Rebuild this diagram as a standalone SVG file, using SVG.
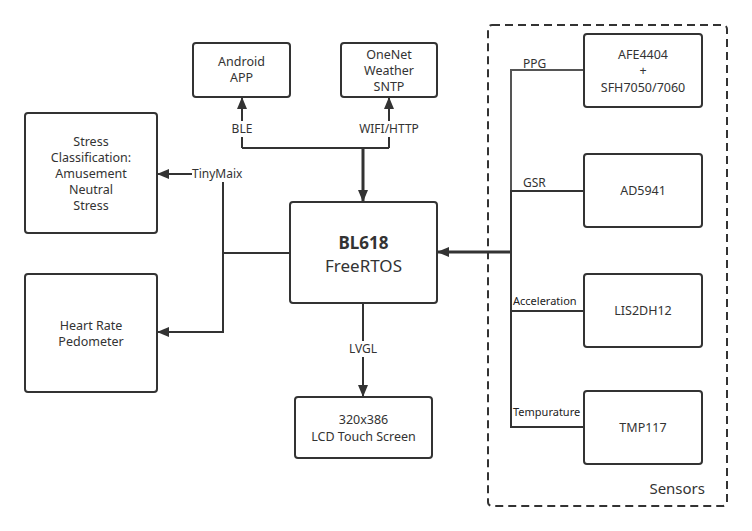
<svg xmlns="http://www.w3.org/2000/svg" width="752" height="531" viewBox="0 0 752 531">
<style>
.box{fill:#fff;stroke:#333;stroke-width:2}
.t{font-family:"Noto Sans","Open Sans",sans-serif;font-size:12.5px;fill:#333;text-anchor:middle}
.l{font-family:"Noto Sans","Open Sans",sans-serif;font-size:12px;fill:#333}
.s{font-family:"Noto Sans","Open Sans",sans-serif;font-size:11px;fill:#222}
.c{fill:none;stroke:#333;stroke-width:2}
.ct{fill:none;stroke:#333;stroke-width:3}
.cg{fill:none;stroke:#555;stroke-width:2}
</style>
<defs>
<marker id="ah" viewBox="0 0 12 10" refX="12" refY="5" markerWidth="12" markerHeight="10" markerUnits="userSpaceOnUse" orient="auto">
<path d="M0,0 L12,5 L0,10 Z" fill="#333"/>
</marker>
</defs>
<rect width="752" height="531" fill="#fff"/>
<g id="sensors-group">
<rect x="488" y="25" width="239" height="481" rx="4" fill="none" stroke="#333" stroke-width="2" stroke-dasharray="8 5"/>
<text x="705" y="494" style="font-family:'Noto Sans','Open Sans',sans-serif;font-size:15px;fill:#333;text-anchor:end">Sensors</text>
</g>
<g id="connectors">
<path class="c" d="M242,148 V97" marker-end="url(#ah)"/>
<path class="c" d="M389,148 V97" marker-end="url(#ah)"/>
<path class="c" d="M242,148 H389"/>
<path class="ct" d="M363,148 V202" marker-end="url(#ah)"/>
<rect x="228" y="121" width="28" height="16" fill="#fff"/>
<text class="l" x="242" y="133" text-anchor="middle">BLE</text>
<rect x="356" y="121" width="66" height="16" fill="#fff"/>
<text class="l" x="389" y="133" text-anchor="middle">WIFI/HTTP</text>
<path class="c" d="M363,303 V397" marker-end="url(#ah)"/>
<rect x="346" y="341" width="34" height="16" fill="#fff"/>
<text class="l" x="363" y="353" text-anchor="middle">LVGL</text>
<path class="c" d="M290,253 H223"/>
<path class="c" d="M223,182 V332 H157" marker-end="url(#ah)"/>
<path class="c" d="M192,174 H157" marker-end="url(#ah)"/>
<text class="l" x="192" y="178">TinyMaix</text>
<path class="ct" d="M511,252 H437" marker-end="url(#ah)"/>
<path class="cg" d="M584,70 H511 V191"/>
<path class="c" d="M584,191 H511 V427 H584"/>
<path class="c" d="M511,311 H584"/>
<text class="l" x="523" y="68">PPG</text>
<text class="l" x="523" y="187">GSR</text>
<text class="s" x="513" y="305">Acceleration</text>
<text class="s" x="513" y="416">Tempurature</text>
</g>
<g id="android">
<rect class="box" x="193" y="43" width="97" height="54" rx="3"/>
<text class="t" x="241.5" y="66">Android</text>
<text class="t" x="241.5" y="82">APP</text>
</g>
<g id="onenet">
<rect class="box" x="341" y="43" width="96" height="54" rx="3"/>
<text class="t" x="389" y="59">OneNet</text>
<text class="t" x="389" y="75">Weather</text>
<text class="t" x="389" y="91">SNTP</text>
</g>
<g id="stress">
<rect class="box" x="25" y="113" width="132" height="120" rx="3"/>
<text class="t" x="91" y="146">Stress</text>
<text class="t" x="91" y="162">Classification:</text>
<text class="t" x="91" y="178">Amusement</text>
<text class="t" x="91" y="194">Neutral</text>
<text class="t" x="91" y="210">Stress</text>
</g>
<g id="heart">
<rect class="box" x="25" y="274" width="132" height="118" rx="3"/>
<text class="t" x="91" y="330">Heart Rate</text>
<text class="t" x="91" y="346">Pedometer</text>
</g>
<g id="bl618">
<rect class="box" x="290" y="202" width="147" height="101" rx="3"/>
<text class="t" x="363.5" y="249" style="font-size:17px;font-weight:bold">BL618</text>
<text class="t" x="363.5" y="272" style="font-size:17px">FreeRTOS</text>
</g>
<g id="lcd">
<rect class="box" x="295" y="397" width="137" height="61" rx="3"/>
<text class="t" x="363.5" y="424">320x386</text>
<text class="t" x="363.5" y="441">LCD Touch Screen</text>
</g>
<g id="afe">
<rect class="box" x="584" y="34" width="118" height="73" rx="3"/>
<text class="t" x="643" y="59">AFE4404</text>
<text class="t" x="643" y="75">+</text>
<text class="t" x="643" y="92">SFH7050/7060</text>
</g>
<g id="ad5941">
<rect class="box" x="584" y="154" width="118" height="73" rx="3"/>
<text class="t" x="643" y="195">AD5941</text>
</g>
<g id="lis">
<rect class="box" x="584" y="274" width="118" height="73" rx="3"/>
<text class="t" x="643" y="315">LIS2DH12</text>
</g>
<g id="tmp">
<rect class="box" x="584" y="391" width="118" height="73" rx="3"/>
<text class="t" x="643" y="432">TMP117</text>
</g>
</svg>
